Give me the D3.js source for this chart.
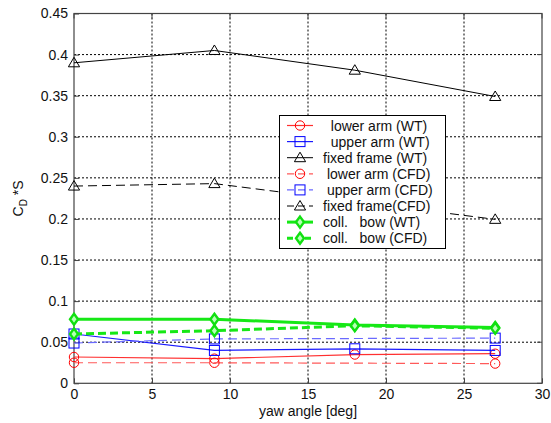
<!DOCTYPE html>
<html lang="en">
<head>
  <meta charset="UTF-8">
  <title>CD*S vs yaw angle</title>
  <script src="https://d3js.org/d3.v7.min.js"></script>
  <style>
    body { margin: 0; background: #fff; }
    text { font-family: Arial, "Liberation Sans", sans-serif; font-size: 14px; fill: #111; }
    .grid line { stroke: #000; stroke-width: 1; stroke-dasharray: 2,2; }
  </style>
</head>
<body>
  <svg width="551" height="423"></svg>

  <script>
    // Data
    const yaw = [0, 9, 18, 27];
    const yawCfd = [0, 9, 27];

    const lowerArmWT = [0.032, 0.030, 0.035, 0.036];
    const upperArmWT = [0.060, 0.040, 0.042, 0.040];
    const fixedFrameWT = [0.390, 0.405, 0.381, 0.349];
    const lowerArmCFD = [0.025, 0.025, 0.024];
    const upperArmCFD = [0.049, 0.054, 0.055];
    const fixedFrameCFD = [0.240, 0.243, 0.1995];
    const collBowWT = [0.078, 0.078, 0.071, 0.068];
    const collBowCFD = [0.060, 0.064, 0.070, 0.067];

    const xTicks = [0, 5, 10, 15, 20, 25, 30];
    const yTicks = [0, 0.05, 0.1, 0.15, 0.2, 0.25, 0.3, 0.35, 0.4, 0.45];

    // series: label, x, y, line colour, marker colour, dash, width, marker
    const series = [
      { label: "  lower arm (WT)", x: yaw, y: lowerArmWT, color: "#ff3030", mc: "#ff0000", dash: null, w: 1.2, marker: "circle" },
      { label: "  upper arm (WT)", x: yaw, y: upperArmWT, color: "#1a1aff", mc: "#0000ff", dash: null, w: 1.2, marker: "square" },
      { label: "fixed frame (WT)", x: yaw, y: fixedFrameWT, color: "#000", mc: "#000", dash: null, w: 1, marker: "triangle" },
      { label: " lower arm (CFD)", x: yawCfd, y: lowerArmCFD, color: "#ff5a5a", mc: "#ff0000", dash: "9,5", w: 1.2, marker: "circle" },
      { label: " upper arm (CFD)", x: yawCfd, y: upperArmCFD, color: "#6a6aff", mc: "#0000ff", dash: "9,5", w: 1.2, marker: "square" },
      { label: "fixed frame(CFD)", x: yawCfd, y: fixedFrameCFD, color: "#000", mc: "#000", dash: "9,5", w: 1, marker: "triangle" },
      { label: "coll.   bow (WT)", x: yaw, y: collBowWT, color: "#16e816", mc: "#10e010", dash: null, w: 3, marker: "diamond" },
      { label: "coll.   bow (CFD)", x: yaw, y: collBowCFD, color: "#16e816", mc: "#10e010", dash: "8,4", w: 3, marker: "diamond" }
    ];

    const svg = d3.select("svg");
    const pLeft = 74, pRight = 542, pTop = 13.5, pBottom = 383.3;

    const x = d3.scaleLinear().domain([0, 30]).range([pLeft, pRight]);
    const y = d3.scaleLinear().domain([0, 0.45]).range([pBottom, pTop]);

    // Grid lines
    const grid = svg.append("g").attr("class", "grid");
    grid.selectAll(".gx").data(xTicks.slice(1, -1)).enter().append("line")
      .attr("x1", d => x(d)).attr("x2", d => x(d))
      .attr("y1", pTop).attr("y2", pBottom);
    grid.selectAll(".gy").data(yTicks.slice(1, -1)).enter().append("line")
      .attr("x1", pLeft).attr("x2", pRight)
      .attr("y1", d => y(d)).attr("y2", d => y(d));

    // Axes (ticks point inward)
    const xAxis = svg.append("g").attr("transform", `translate(0,${pBottom})`)
      .call(d3.axisBottom(x).tickValues(xTicks).tickSize(-5).tickPadding(6).tickFormat(d3.format("d")));
    const yAxis = svg.append("g").attr("transform", `translate(${pLeft},0)`)
      .call(d3.axisLeft(y).tickValues(yTicks).tickSize(-5).tickPadding(6).tickFormat(d => d === 0 ? "0" : String(+d.toFixed(2))));
    [xAxis, yAxis].forEach(a => {
      a.select(".domain").remove();
      a.selectAll("line").attr("stroke", "#444");
      a.selectAll("text").attr("font-size", 14).attr("font-family", "Arial, 'Liberation Sans', sans-serif").attr("fill", "#111");
    });

    // Top and right ticks
    svg.append("g").selectAll("line").data(xTicks).enter().append("line")
      .attr("x1", d => x(d)).attr("x2", d => x(d)).attr("y1", pTop).attr("y2", pTop + 5).attr("stroke", "#444");
    svg.append("g").selectAll("line").data(yTicks).enter().append("line")
      .attr("x1", pRight - 5).attr("x2", pRight).attr("y1", d => y(d)).attr("y2", d => y(d)).attr("stroke", "#444");

    // Box
    svg.append("rect").attr("x", pLeft).attr("y", pTop)
      .attr("width", pRight - pLeft).attr("height", pBottom - pTop)
      .attr("fill", "none").attr("stroke", "#444").attr("stroke-width", 1.2);

    // Markers
    function drawMarker(g, type, cx, cy, color) {
      if (type === "circle") {
        g.append("circle").attr("cx", cx).attr("cy", cy).attr("r", 4.7)
          .attr("fill", "none").attr("stroke", color).attr("stroke-width", 1);
      } else if (type === "square") {
        g.append("rect").attr("x", cx - 5).attr("y", cy - 5).attr("width", 10).attr("height", 10)
          .attr("fill", "none").attr("stroke", color).attr("stroke-width", 1);
      } else if (type === "triangle") {
        g.append("path").attr("d", `M${cx - 5.6},${cy + 4} L${cx + 5.6},${cy + 4} L${cx},${cy - 5.5} Z`)
          .attr("fill", "none").attr("stroke", color).attr("stroke-width", 1);
      } else if (type === "diamond") {
        g.append("path").attr("d", `M${cx},${cy - 5.5} L${cx + 4},${cy} L${cx},${cy + 5.5} L${cx - 4},${cy} Z`)
          .attr("fill", "#b8ffb8").attr("stroke", color).attr("stroke-width", 2.4);
      }
    }

    const line = d3.line().x(d => x(d[0])).y(d => y(d[1]));
    const plot = svg.append("g");
    series.forEach(s => {
      const pts = s.x.map((xv, i) => [xv, s.y[i]]);
      plot.append("path").datum(pts).attr("d", line)
        .attr("fill", "none").attr("stroke", s.color).attr("stroke-width", s.w)
        .attr("stroke-dasharray", s.dash);
      const mg = plot.append("g");
      pts.forEach(p => drawMarker(mg, s.marker, x(p[0]), y(p[1]), s.mc));
    });

    // Legend
    const lg = svg.append("g");
    lg.append("rect").attr("x", 279.5).attr("y", 115.5).attr("width", 166).attr("height", 133)
      .attr("fill", "#fff").attr("stroke", "#000").attr("stroke-width", 1);
    series.forEach((s, i) => {
      const cy = 125.5 + i * 16.1;
      lg.append("line").attr("x1", 287).attr("x2", 313).attr("y1", cy).attr("y2", cy)
        .attr("stroke", s.color).attr("stroke-width", s.w).attr("stroke-dasharray", s.dash ? (s.w > 2 ? "6,3" : "7,4") : null);
      drawMarker(lg, s.marker, 300, cy, s.mc);
      lg.append("text").attr("x", 323).attr("y", cy + 5).attr("font-size", 14.5)
        .attr("xml:space", "preserve").style("white-space", "pre")
        .text(s.label);
    });

    // Axis labels
    svg.append("text").attr("x", (pLeft + pRight) / 2).attr("y", 416)
      .attr("text-anchor", "middle").text("yaw angle [deg]");
    const yl = svg.append("text")
      .attr("transform", `translate(23,${(pTop + pBottom) / 2}) rotate(-90)`)
      .attr("text-anchor", "middle");
    yl.append("tspan").text("C");
    yl.append("tspan").attr("font-size", 10).attr("dy", 4).text("D");
    yl.append("tspan").attr("dy", -4).attr("xml:space", "preserve").style("white-space", "pre").text(" *S");
  </script>
</body>
</html>
